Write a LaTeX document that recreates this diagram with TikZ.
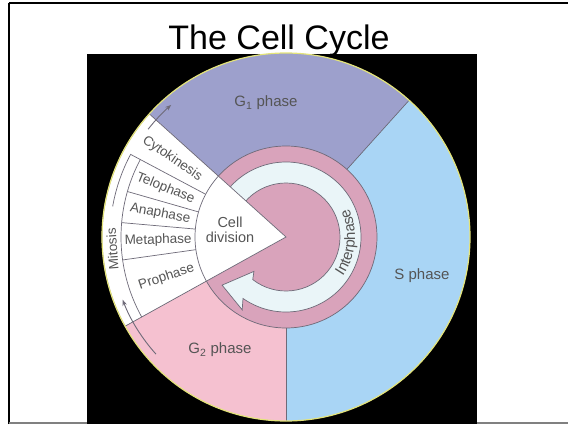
\documentclass[tikz,border=0pt]{standalone}
\usepackage{fontspec}
\setmainfont{Liberation Sans}
\usepackage{tikz}
\usetikzlibrary{arrows.meta,decorations.text}

\definecolor{gonecol}{HTML}{9DA0CC}
\definecolor{scol}{HTML}{A9D5F5}
\definecolor{gtwocol}{HTML}{F5C1D0}
\definecolor{ringcol}{HTML}{D9A3BB}
\definecolor{arrowcol}{HTML}{EAF5F8}
\definecolor{rimgray}{HTML}{6E6A78}
\definecolor{labelgray}{HTML}{555555}
\definecolor{rimyellow}{HTML}{E4E47A}

\begin{document}
\begin{tikzpicture}[x=1pt, y=1pt,
  rim/.style={draw=rimgray, line width=0.7pt},
  phaselabel/.style={text=labelgray, font=\fontsize{15}{17}\selectfont},
  boxlabel/.style={text=labelgray, font=\fontsize{13.5}{15}\selectfont, inner sep=0pt}]
  \useasboundingbox (0,0) rectangle (568,424);
  % page frame
  \draw[line width=2pt] (8.5,0) -- (8.5,421);
  \draw[line width=1.5pt] (8.5,421) -- (568,421);
  \draw[gray, line width=1.5pt] (8.5,1) -- (568,1);
  % photo background
  \fill (87,0) rectangle (477,370);
  \node[font=\fontsize{34}{36}\selectfont, anchor=base] (title) at (279,374) {The Cell Cycle};

  \begin{scope}[shift={(286,187)}]
    % phases of interphase
    \fill[gonecol] (0,0) -- (48:184) arc[start angle=48, end angle=138, radius=184] -- cycle;
    \fill[scol] (0,0) -- (-90:184) arc[start angle=-90, end angle=48, radius=184] -- cycle;
    \fill[gtwocol] (0,0) -- (209:184) arc[start angle=209, end angle=270, radius=184] -- cycle;
    \draw[rim] (48:91) -- (48:184);
    \draw[rim] (-90:91) -- (-90:184);
    % interphase ring and its arrow
    \path[fill=ringcol, rim] (0,0) circle[radius=91];
    \path[fill=arrowcol, rim] (140:54) arc[start angle=140, end angle=-128, radius=54]
      -- (-133:47) -- (-143:80) -- (-121:85) -- (-125:75)
      arc[start angle=-125, end angle=140, radius=75] -- cycle;
    \path[decorate, decoration={text along path, text align=center,
      text={|\color{labelgray}\fontsize{15}{17}\selectfont|Interphase}}]
      (-45:69) arc[start angle=-45, end angle=35, radius=69];
    % mitosis wedge
    \path[fill=white, rim] (0,0) -- (138:184) arc[start angle=138, end angle=209, radius=184] -- cycle;
    \draw[rim] (138:91) arc[start angle=138, end angle=209, radius=91];
    \draw[rim] (152:91) -- (152:176) arc[start angle=152, end angle=170, radius=176];
    \foreach \a in {164,175,188}
      \draw[rim] (\a:91) -- (\a:165);
    \draw[rim] (152:165) arc[start angle=152, end angle=209, radius=165];
    % arrows along the rim
    \draw[rim, line width=0.9pt, -{Stealth[length=6pt, width=4.5pt]}] (142:175) arc[start angle=142, end angle=131, radius=175];
    \draw[rim, line width=0.9pt, -{Stealth[length=6pt, width=4.5pt]}] (222:175) arc[start angle=222, end angle=201, radius=175];
    \draw[rimyellow, line width=1.2pt] (0,0) circle[radius=184];

    % labels
    \node[phaselabel] (g1) at (-20,134) {G\textsubscript{1} phase};
    \node[phaselabel] (sphase) at (136,-39) {S phase};
    \node[phaselabel] (g2) at (-66,-113) {G\textsubscript{2} phase};
    \node[text=labelgray, font=\fontsize{14.5}{15}\selectfont, align=center] (celldiv) at (-56,7) {Cell\\division};
    \node[boxlabel, rotate=-34.5] (cyto) at (145.5:138) {Cytokinesis};
    \node[boxlabel, rotate=-22] (telo) at (158:130) {Telophase};
    \node[boxlabel, rotate=-10.5] (ana) at (169.5:128) {Anaphase};
    \node[boxlabel, rotate=1.5] (meta) at (181.5:128) {Metaphase};
    \node[boxlabel, rotate=18.5] (pro) at (198.5:126) {Prophase};
    \node[boxlabel, rotate=94] (mitosis) at (184:174) {Mitosis};
  \end{scope}
\end{tikzpicture}
\end{document}
